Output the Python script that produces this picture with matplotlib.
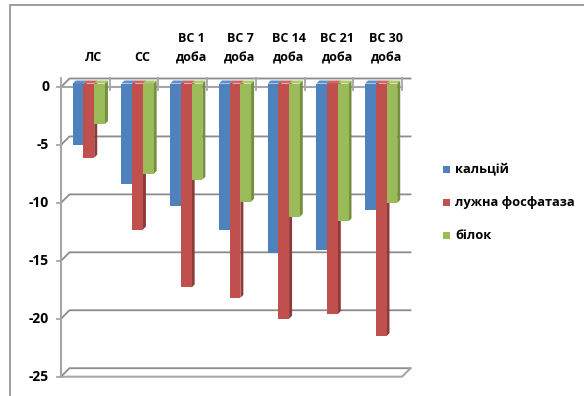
import matplotlib
matplotlib.use("Agg")
import matplotlib.pyplot as plt
from matplotlib.patches import Polygon, Rectangle

categories = ["ЛС", "СС", "ВС 1\nдоба", "ВС 7\nдоба", "ВС 14\nдоба", "ВС 21\nдоба", "ВС 30\nдоба"]
series_names = ["кальцій", "лужна фосфатаза", "білок"]
calcium = [-5.3, -8.7, -10.6, -12.6, -14.6, -14.4, -10.9]
phosphatase = [-6.4, -12.6, -17.6, -18.5, -20.3, -19.9, -21.8]
protein = [-3.5, -7.8, -8.3, -10.2, -11.5, -11.9, -10.3]
yticks = [0, -5, -10, -15, -20, -25]

face_col = ["#4F81BD", "#C0504D", "#9BBB59"]
side_col = ["#3A6291", "#8E3A38", "#74903F"]
top_col = ["#5E8FCB", "#CD6461", "#ADC86D"]
grid_col = "#8C8C8C"
axis_col = "#A6A6A6"

plt.rcParams["font.family"] = ["Open Sans", "DejaVu Sans"]

W, H = 584, 396
fig = plt.figure(figsize=(W / 100, H / 100), dpi=100)
# front plane of the 3d box
ax = fig.add_axes([61 / W, 19.3 / H, 341 / W, 289.7 / H])
ax.set_xlim(-0.5, len(categories) - 0.5)
ax.set_ylim(-25, 0)
ax.axis("off")

# data units per pixel
ux = (ax.get_xlim()[1] - ax.get_xlim()[0]) / 341
uy = (ax.get_ylim()[1] - ax.get_ylim()[0]) / 289.7

wall = 8.5      # depth of the box, px
bar_off = 3.5   # bars sit this far behind the front plane, px
bar_d = 3.0     # bar depth, px
xl, xr = ax.get_xlim()

# chart area border
fig.patches.append(Rectangle((10 / W, -0.1), 1.2, 1.1 - 5 / H, transform=fig.transFigure,
                             fill=False, edgecolor="#8C8C8C", lw=1.2))

# back wall gridlines with side-wall diagonals
for yv in yticks:
    ax.plot([xl, xl + wall * ux, xr + wall * ux], [yv, yv + wall * uy, yv + wall * uy],
            color=grid_col, lw=1.3, clip_on=False, zorder=1)
    ax.plot([xl - 4 * ux, xl], [yv, yv], color=axis_col, lw=1.3, clip_on=False, zorder=1)
    ax.text(xl - 12 * ux, yv, str(yv), ha="right", va="center", fontsize=10,
            fontweight="bold", color="black")

# front value axis, category axis at zero and floor
ax.plot([xl, xl], [0, -25], color=axis_col, lw=1.5, clip_on=False, zorder=1)
ax.plot([xl, xr], [0, 0], color=axis_col, lw=1.5, clip_on=False, zorder=1)
ax.plot([xl, xr, xr + wall * ux], [-25, -25, -25 + wall * uy], color=axis_col, lw=1.5,
        clip_on=False, zorder=1)
for k in range(len(categories) + 1):
    xk = xl + k
    ax.plot([xk, xk], [-3 * uy, 9 * uy], color=axis_col, lw=1.3, clip_on=False, zorder=1)

# bars with front, side and top faces
values = [calcium, phosphatase, protein]
bw = 0.22
z = 3
for i in range(len(categories)):
    for j, ser in enumerate(values):
        v = ser[i]
        x0 = i - 1.5 * bw + j * bw + bar_off * ux
        x1 = x0 + bw
        y0 = bar_off * uy
        dx, dy = bar_d * ux, bar_d * uy
        ax.add_patch(Polygon([(x1, y0), (x1 + dx, y0 + dy), (x1 + dx, v + y0 + dy), (x1, v + y0)],
                             closed=True, facecolor=side_col[j], edgecolor="none",
                             clip_on=False, zorder=z))
        ax.add_patch(Rectangle((x0, v + y0), bw, -v, facecolor=face_col[j], edgecolor="none",
                               clip_on=False, zorder=z + 1))
        ax.add_patch(Polygon([(x0, y0), (x1, y0), (x1 + dx, y0 + dy), (x0 + dx, y0 + dy)],
                             closed=True, facecolor=top_col[j], edgecolor="none",
                             clip_on=False, zorder=z + 1))
        z += 2

# category labels above the box
for i, lab in enumerate(categories):
    ax.text(i + wall * ux, 23 * uy, lab, ha="center", va="bottom", fontsize=9,
            fontweight="bold", linespacing=1.6)

# legend
for j, name in enumerate(series_names):
    yc = 1 - (169.3 + 33.3 * j) / H
    fig.patches.append(Rectangle((443 / W, yc - 3.5 / H), 7 / W, 7 / H, transform=fig.transFigure,
                                 facecolor=face_col[j], edgecolor="none"))
    fig.text(455 / W, yc, name, ha="left", va="center", fontsize=9.3, fontweight="bold")

fig.savefig("out.png", dpi=100)
